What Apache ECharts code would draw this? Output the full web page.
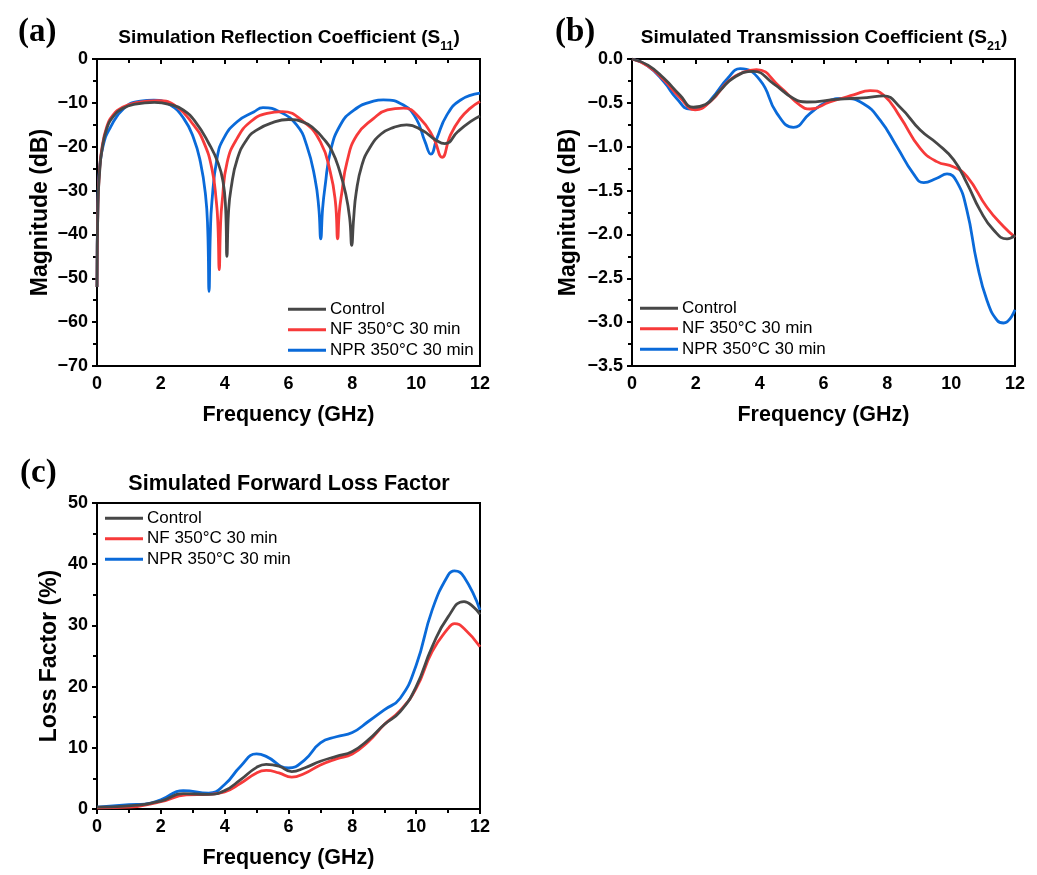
<!DOCTYPE html>
<html>
<head>
<meta charset="utf-8">
<script src="https://cdn.jsdelivr.net/npm/echarts@6/dist/echarts.min.js"></script>
<style>
  html, body { margin: 0; padding: 0; background: #fff; }
  #main { width: 1037px; height: 875px; }
</style>
</head>
<body>
<div id="main"></div>
<script>
  // series names and colours
  var names = ['Control', 'NF 350°C 30 min', 'NPR 350°C 30 min']
  var colors = ['#474747', '#f73a3a', '#0a6ad9']

  // (a) S11, dB
  var s11CtrlF = [0, 0.03, 0.08, 0.15, 0.3, 0.5, 0.8, 1.2, 1.8, 2.3, 2.7, 3.1, 3.5, 3.8, 3.95, 4.03, 4.07, 4.12, 4.2, 4.4, 4.7, 5.0, 5.5, 6.0, 6.5, 6.8, 7.1, 7.35, 7.6, 7.8, 7.92, 7.98, 8.04, 8.12, 8.3, 8.55, 8.9, 9.3, 9.7, 10.2, 10.6, 10.9, 11.3, 11.7, 12]
  var s11CtrlV = [-52, -33, -26, -21, -16, -13.2, -11.3, -10.3, -9.9, -10.4, -11.6, -14.5, -19.2, -23.8, -28, -34, -45, -35, -29.5, -22.7, -18.3, -16.2, -14.5, -13.8, -14.5, -15.9, -18.2, -20.8, -25.5, -31, -36.5, -42.5, -36.5, -30.5, -24.2, -20.2, -17.1, -15.6, -15, -16.3, -18.4, -19.3, -16.6, -14.3, -13]
  var s11NfF = [0, 0.03, 0.08, 0.15, 0.3, 0.5, 0.8, 1.2, 1.9, 2.5, 3.03, 3.34, 3.6, 3.74, 3.79, 3.83, 3.87, 3.92, 4.08, 4.39, 4.81, 5.33, 5.8, 6.47, 7.0, 7.31, 7.47, 7.54, 7.59, 7.67, 7.83, 8.14, 8.66, 9.1, 9.6, 10.13, 10.55, 10.81, 11.07, 11.38, 11.7, 12]
  var s11NfV = [-52, -33, -25.5, -20.5, -15.6, -12.8, -11, -10, -9.5, -10.9, -15.1, -18.9, -25, -32.6, -38, -48, -38, -32.6, -23.5, -18.1, -14.3, -12.4, -12, -14.3, -18.9, -25.8, -32.6, -41, -35, -30.5, -23.5, -17.4, -13.6, -11.6, -11.2, -13.6, -18.1, -22.4, -17.4, -13.6, -11.2, -9.7]
  var s11NprF = [0, 0.03, 0.08, 0.2, 0.42, 0.84, 1.36, 1.78, 2.3, 2.72, 3.03, 3.24, 3.4, 3.47, 3.51, 3.55, 3.6, 3.76, 3.97, 4.39, 4.91, 5.2, 5.74, 6.26, 6.57, 6.83, 6.95, 7.01, 7.07, 7.15, 7.31, 7.62, 8.04, 8.66, 8.97, 9.6, 10.0, 10.28, 10.46, 10.65, 10.96, 11.38, 12]
  var s11NprV = [-52, -32, -25, -19.5, -15.6, -11.3, -9.6, -9.4, -10.5, -13.6, -18.1, -23.5, -31, -39, -53, -40, -32.6, -22.7, -18.1, -14.3, -12.1, -11.1, -12.1, -15.1, -19.7, -27.3, -34, -41, -34, -28.8, -21.2, -15.1, -11.7, -9.6, -9.3, -10.5, -13.6, -18.9, -21.7, -18.1, -12.8, -9.4, -7.8]

  // (b) S21, dB
  var s21CtrlF = [0, 0.5, 1.0, 1.5, 1.92, 2.3, 2.76, 3.2, 3.8, 4.43, 5.06, 5.48, 6.42, 7.36, 7.88, 8.4, 9.03, 9.55, 10.08, 10.5, 10.9, 11.33, 11.75, 12]
  var s21CtrlV = [0, -0.07, -0.22, -0.41, -0.55, -0.52, -0.36, -0.21, -0.14, -0.28, -0.45, -0.49, -0.46, -0.44, -0.42, -0.55, -0.81, -0.96, -1.15, -1.42, -1.72, -1.95, -2.05, -2.01]
  var s21NfF = [0, 0.5, 1.0, 1.5, 1.98, 2.5, 3.0, 3.5, 3.9, 4.64, 5.27, 5.58, 6.2, 6.94, 7.46, 7.88, 8.4, 9.03, 9.55, 10.08, 10.5, 11.12, 11.64, 12]
  var s21NfV = [0, -0.08, -0.24, -0.44, -0.58, -0.47, -0.26, -0.15, -0.12, -0.32, -0.53, -0.57, -0.49, -0.41, -0.36, -0.41, -0.66, -1.02, -1.17, -1.23, -1.34, -1.69, -1.91, -2.03]
  var s21NprF = [0, 0.5, 1.0, 1.4, 1.82, 2.2, 2.5, 3.0, 3.39, 4.01, 4.54, 5.06, 5.58, 6.1, 6.63, 7.25, 7.78, 8.3, 8.82, 9.14, 9.55, 9.87, 10.18, 10.49, 10.81, 11.12, 11.44, 11.64, 12]
  var s21NprV = [0, -0.08, -0.26, -0.45, -0.57, -0.55, -0.45, -0.22, -0.11, -0.24, -0.62, -0.78, -0.62, -0.49, -0.45, -0.51, -0.70, -1.0, -1.31, -1.41, -1.36, -1.31, -1.40, -1.72, -2.33, -2.75, -2.98, -3.01, -2.86]

  // (c) loss factor, %
  var lossCtrlF = [0, 1, 2, 2.7, 3.5, 4, 4.5, 5, 5.3, 5.7, 6.1, 6.5, 7, 7.5, 8, 8.5, 9, 9.5, 10, 10.5, 11, 11.5, 11.8, 12]
  var lossCtrlV = [0.3, 0.5, 1.3, 2.5, 2.4, 3.0, 4.8, 6.8, 7.3, 7.0, 6.1, 6.7, 7.8, 8.6, 9.4, 11.3, 13.8, 15.9, 20, 26.5, 31.4, 33.9, 33, 31.8]
  var lossNfF = [0, 1, 2, 2.8, 3.5, 4, 4.5, 5, 5.3, 5.7, 6.1, 6.5, 7, 7.5, 8, 8.5, 9, 9.5, 10, 10.5, 11, 11.2, 11.5, 12]
  var lossNfV = [0.2, 0.3, 1.2, 2.3, 2.4, 2.8, 4.2, 5.9, 6.3, 5.9, 5.2, 5.8, 7.2, 8.2, 9.0, 11.0, 13.8, 16.1, 19.7, 25.7, 29.5, 30.3, 29.5, 26.5]
  var lossNprF = [0, 1, 1.5, 2, 2.7, 3.5, 4, 4.5, 5, 5.3, 6, 6.5, 7, 7.5, 8, 8.5, 9, 9.5, 10, 10.5, 11, 11.2, 11.5, 12]
  var lossNprV = [0.3, 0.7, 0.8, 1.5, 3.0, 2.6, 4.0, 7.0, 9.0, 8.6, 6.7, 8.0, 10.8, 11.8, 12.5, 14.3, 16.2, 18.1, 23.5, 32.5, 38.2, 38.9, 37.9, 32.5]

  var freqTicks = { min: 0, max: 12, interval: 2 }

  function zip(f, v) {
    return f.map(function (x, i) { return [x, v[i]] })
  }

  function minusFmt(digits) {
    return function (v) {
      var s = digits ? v.toFixed(digits) : String(v)
      return s.replace('-', '\u2212')
    }
  }

  var tickFont = { color: '#000', fontWeight: 'bold', fontSize: 18, fontFamily: 'Liberation Sans' }
  var xNameFont = { color: '#000', fontWeight: 'bold', fontSize: 21.5, fontFamily: 'Liberation Sans' }
  var yNameFont = { color: '#000', fontWeight: 'bold', fontSize: 23, fontFamily: 'Liberation Sans' }

  function xAxisFor(i) {
    return {
      type: 'value', gridIndex: i, min: freqTicks.min, max: freqTicks.max, interval: freqTicks.interval,
      name: 'Frequency (GHz)', nameLocation: 'middle', nameGap: 38, nameTextStyle: xNameFont,
      axisLine: { lineStyle: { color: '#000', width: 2 } },
      axisTick: { length: 5, lineStyle: { color: '#000', width: 2 } },
      minorTick: { show: true, splitNumber: 2, length: 4, lineStyle: { color: '#000', width: 2 } },
      axisLabel: Object.assign({ margin: 9 }, tickFont),
      splitLine: { show: false }
    }
  }

  function yAxisFor(i, name, min, max, interval, digits, gap) {
    return {
      type: 'value', gridIndex: i, min: min, max: max, interval: interval,
      name: name, nameLocation: 'middle', nameGap: gap, nameTextStyle: yNameFont,
      axisLine: { lineStyle: { color: '#000', width: 2 } },
      axisTick: { length: 5, lineStyle: { color: '#000', width: 2 } },
      minorTick: { show: true, splitNumber: 2, length: 4, lineStyle: { color: '#000', width: 2 } },
      axisLabel: Object.assign({ margin: 9, formatter: minusFmt(digits) }, tickFont),
      splitLine: { show: false }
    }
  }

  function lines(i, sets) {
    return sets.map(function (d, k) {
      return {
        name: names[k], type: 'line', xAxisIndex: i, yAxisIndex: i,
        data: zip(d[0], d[1]), symbol: 'none', showSymbol: false, smooth: 0.5,
        lineStyle: { color: colors[k], width: 2.8 }, itemStyle: { color: colors[k] },
        z: 3 - k
      }
    })
  }

  function legendAt(left, top) {
    return {
      data: names, left: left, top: top, orient: 'vertical', icon: 'rect', padding: 0,
      itemWidth: 38, itemHeight: 3, itemGap: 2, selectedMode: false,
      textStyle: { color: '#000', fontSize: 17, fontFamily: 'Liberation Sans', lineHeight: 18.5, padding: [0, 0, 0, -1] }
    }
  }

  var baseTitle = { color: '#000', fontWeight: 'bold', fontFamily: 'Liberation Sans' }
  var titleRich = {
    m: Object.assign({ fontSize: 19, lineHeight: 20, verticalAlign: 'top' }, baseTitle),
    sub: Object.assign({ fontSize: 12.5, lineHeight: 14, verticalAlign: 'top', padding: [12, 0, 0, 0] }, baseTitle)
  }
  var panelFont = { color: '#000', fontWeight: 'bold', fontSize: 33, fontFamily: 'Liberation Serif' }

  var myChart = echarts.init(document.getElementById('main'))
  var option = {
    backgroundColor: '#fff',
    animation: false,
    title: [
      { text: '(a)', left: 13, top: 11, textStyle: panelFont },
      { text: '(b)', left: 550, top: 11, textStyle: panelFont },
      { text: '(c)', left: 15, top: 452, textStyle: panelFont },
      { text: '{m|Simulation Reflection Coefficient (S}{sub|11}{m|)}', left: 289, top: 28, textAlign: 'center', padding: 0,
        textStyle: { rich: titleRich } },
      { text: '{m|Simulated Transmission Coefficient (S}{sub|21}{m|)}', left: 824, top: 28, textAlign: 'center', padding: 0,
        textStyle: { rich: titleRich } },
      { text: 'Simulated Forward Loss Factor', left: 289, top: 473, textAlign: 'center', padding: 0,
        textStyle: Object.assign({ fontSize: 21.5, lineHeight: 22 }, baseTitle) }
    ],
    legend: [legendAt(288, 300), legendAt(640, 299), legendAt(105, 509)],
    grid: [
      { left: 97, top: 59, width: 383, height: 307, show: true, borderColor: '#000', borderWidth: 2 },
      { left: 632, top: 59, width: 383, height: 307, show: true, borderColor: '#000', borderWidth: 2 },
      { left: 97, top: 503, width: 383, height: 306, show: true, borderColor: '#000', borderWidth: 2 }
    ],
    xAxis: [xAxisFor(0), xAxisFor(1), xAxisFor(2)],
    yAxis: [
      yAxisFor(0, 'Magnitude (dB)', -70, 0, 10, 0, 45),
      yAxisFor(1, 'Magnitude (dB)', -3.5, 0, 0.5, 1, 52),
      yAxisFor(2, 'Loss Factor (%)', 0, 50, 10, 0, 36)
    ],
    series: [].concat(
      lines(0, [[s11CtrlF, s11CtrlV], [s11NfF, s11NfV], [s11NprF, s11NprV]]),
      lines(1, [[s21CtrlF, s21CtrlV], [s21NfF, s21NfV], [s21NprF, s21NprV]]),
      lines(2, [[lossCtrlF, lossCtrlV], [lossNfF, lossNfV], [lossNprF, lossNprV]])
    )
  }
  myChart.setOption(option)
</script>
</body>
</html>
